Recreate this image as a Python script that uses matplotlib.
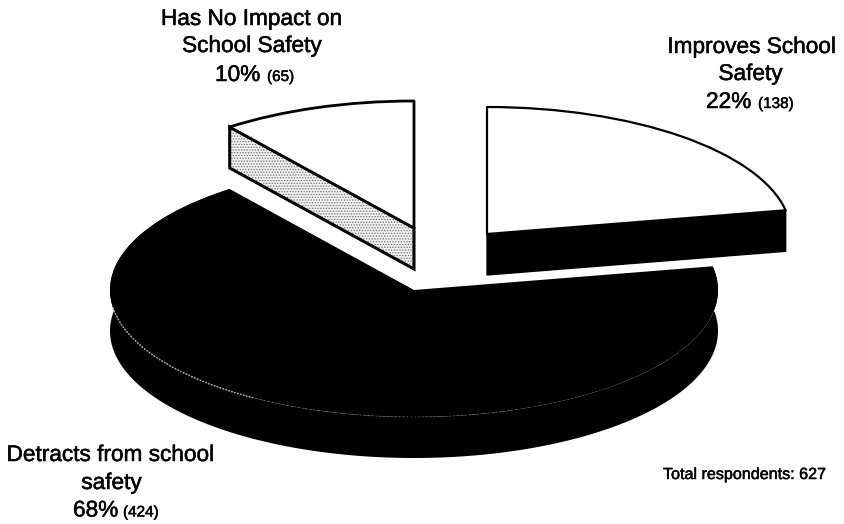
import numpy as np
import matplotlib
matplotlib.use("Agg")
import matplotlib.pyplot as plt
import matplotlib.patheffects as pe
from matplotlib.patches import Polygon

# ---- data ----
categories = ["Improves School Safety", "Detracts from school safety", "Has No Impact on School Safety"]
counts = [138, 424, 65]
percent_labels = ["22%", "68%", "10%"]
count_labels = ["(138)", "(424)", "(65)"]
total_label = "Total respondents: 627"

# ---- layout (pixels of the 844x524 canvas) ----
W, H = 844, 524
RX, RY = 304, 127
K = RY / RX
DEPTH = 41
INK = "#000000"
plt.rcParams["font.family"] = ["Liberation Sans", "DejaVu Sans"]
plt.rcParams["hatch.linewidth"] = 0.6
plt.rcParams["hatch.color"] = "#6e6e6e"
plt.rcParams["text.hinting"] = "no_hinting"
plt.rcParams["text.hinting_factor"] = 1

fig = plt.figure(figsize=(W / 100, H / 100), dpi=100, facecolor="white")
ax = fig.add_axes([0, 0, 1, 1])


def Y(py):
    return (H - py) / K


wedges, _ = ax.pie(counts, startangle=90, counterclock=False, radius=RX)
ax.set_aspect("auto")
ax.set_xlim(0, W)
ax.set_ylim(0, H / K)
ax.axis("off")

apexes = [(487, 234), (414, 290), (414, 228)]
faces = ["white", INK, "white"]
edge_w = [1.6, 0, 2.0]
D = DEPTH / K


def rim(cx, cy, a0, a1, drop=0.0):
    t = np.radians(np.linspace(a0, a1, 200))
    return np.c_[cx + RX * np.cos(t), Y(cy) + RX * np.sin(t) - drop]


for w, (px, py), fc, lw in zip(wedges, apexes, faces, edge_w):
    w.set_center((px, Y(py)))
    w.set_radius(RX)
    w.set_facecolor(fc)
    w.set_edgecolor(INK)
    w.set_linewidth(lw)
    w.set_joinstyle("round")
    w.set_zorder(5)

# dark slice: rim band below the top surface
w = wedges[1]
a0, a1 = w.theta1, w.theta2
ax.add_patch(Polygon(np.r_[rim(414, 290, a0, a1), rim(414, 290, a0, a1, D)[::-1]],
                     closed=True, fc=INK, ec=INK, lw=0, zorder=2))
# faint speckled edge of the dark top surface
ax.plot(*rim(414, 290, 188, 238).T, color="#b0b0b0", lw=1.1, ls=(0, (1, 1)), zorder=6)
ax.plot(*rim(414, 290, 238, 290).T, color="#6a6a6a", lw=0.7, ls=(0, (1, 3)), zorder=6)
ax.plot(*rim(414, 290, 290, 345).T, color="#2c2c2c", lw=0.6, ls=(0, (1, 4)), zorder=6)

# white slice: black cut face on its lower edge
w = wedges[0]
px, py = apexes[0]
corner = rim(px, py, w.theta1, w.theta1)[0]
apex = np.array([px, Y(py)])
face = np.array([apex, corner, corner - [0, D], apex - [0, D]])
ax.add_patch(Polygon(face, closed=True, fc=INK, ec=INK, lw=1.0, zorder=4))

# grey slice: stippled cut face on its lower edge
w = wedges[2]
px, py = apexes[2]
corner = rim(px, py, w.theta2, w.theta2)[0]
apex = np.array([px, Y(py)])
face = np.array([apex, corner, corner - [0, D], apex - [0, D]])
ax.add_patch(Polygon(face, closed=True, fc="#f1f1f1", ec="#6e6e6e", lw=0, hatch="......", zorder=4))
ax.add_patch(Polygon(face, closed=True, fc="none", ec=INK, lw=2.2, zorder=4.5))


def txt(x, py, s, size=16.3, ha="center"):
    t = ax.text(x, Y(py), s, fontsize=size, ha=ha, va="baseline", color=INK, zorder=10)
    t.set_path_effects([pe.withStroke(linewidth=0.35, foreground=INK)])


# labels
improves = categories[0].rsplit(" ", 1)
txt(753, 53, improves[0])
txt(751, 80, improves[1])
txt(706, 108, percent_labels[0], ha="left")
txt(758, 108, count_labels[0], size=11, ha="left")

detracts = categories[1].rsplit(" ", 1)
txt(112, 461, detracts[0])
txt(112, 489, detracts[1])
txt(73, 516.5, percent_labels[1], ha="left")
txt(123, 516.5, count_labels[1], size=11, ha="left")

noimpact = categories[2]
txt(253, 25, noimpact[:16])
txt(253, 52, noimpact[17:])
txt(215, 81, percent_labels[2], ha="left")
txt(267, 81, count_labels[2], size=11, ha="left")

txt(663, 479, total_label, size=11.6, ha="left")

fig.savefig("out.png", dpi=100, facecolor="white")
